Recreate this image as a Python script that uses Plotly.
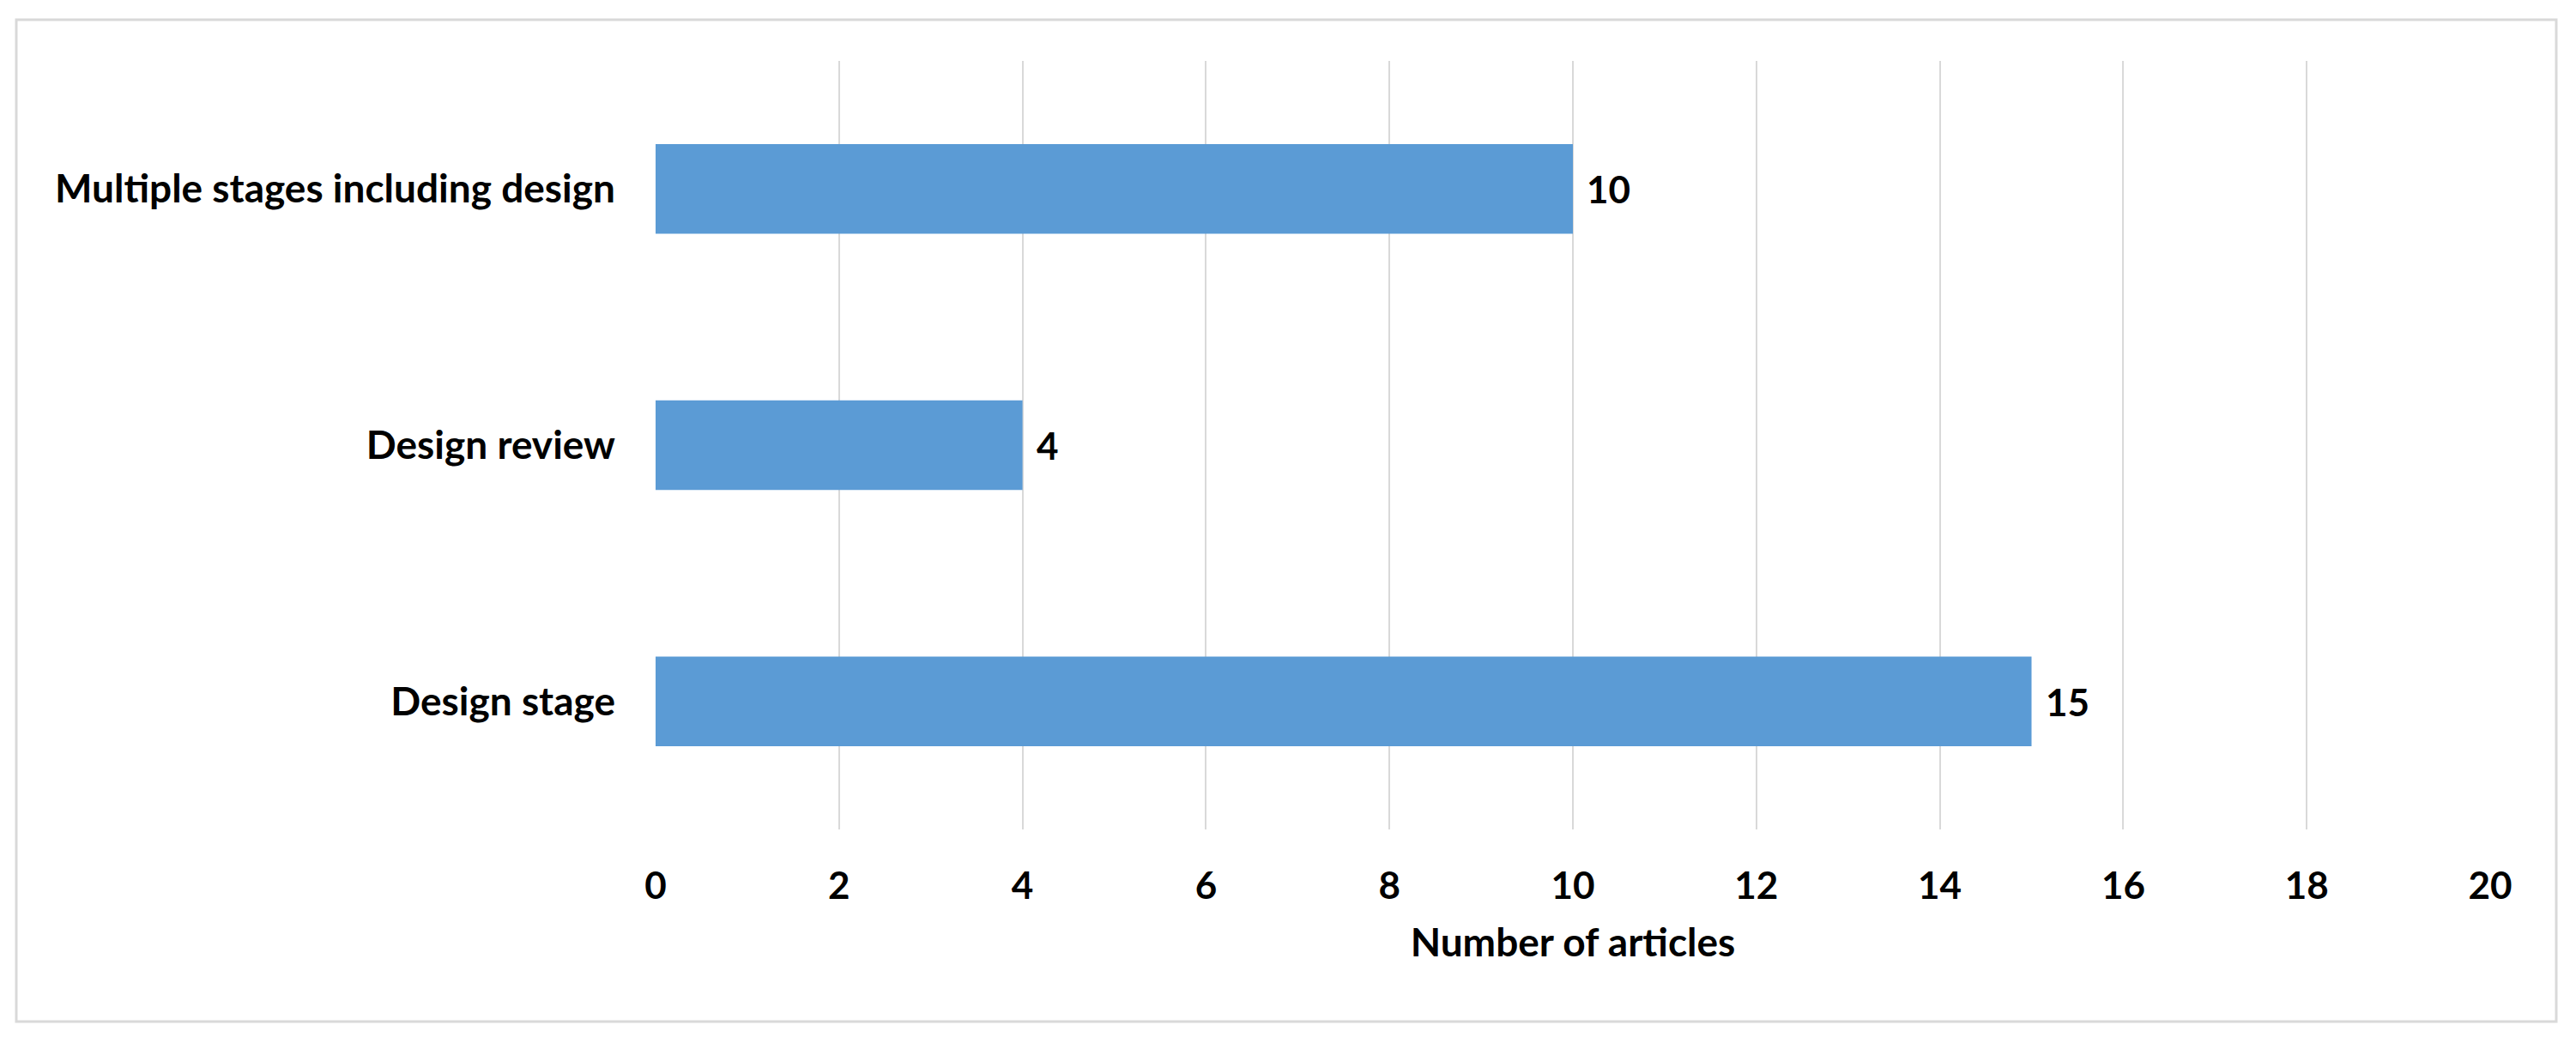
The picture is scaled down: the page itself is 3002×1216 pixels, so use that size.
import plotly.graph_objects as go

# data
stages = ["Design stage", "Design review", "Multiple stages including design"]
articles = [15, 4, 10]
x_ticks = [0, 2, 4, 6, 8, 10, 12, 14, 16, 18, 20]

W, H = 3002, 1216
off = 8  # browser body margin
# plot area in pixels (page coords minus body margin)
left, right, top, bottom = 764 - off, 2902 - off, 71 - off, 967 - off
font = "Lato"
fsize = 46

fig = go.Figure()
fig.add_trace(go.Bar(
    x=articles,
    y=stages,
    orientation="h",
    width=0.35,
    marker_color="#5b9bd5",
    marker_line_width=0,
    hoverinfo="skip",
))

# value labels next to the bars
for v, s in zip(articles, stages):
    fig.add_annotation(x=v, y=s, text="<b>%d</b>" % v, showarrow=False,
                       xanchor="left", xshift=14,
                       font=dict(family=font, size=fsize - 2, color="#000000"))

# frame around the whole chart (in paper coords relative to plot area)
pw, ph = right - left, bottom - top
def px_x(p):
    return (p - off - left) / pw
def px_y(p):
    return (bottom - (p - off)) / ph

fig.add_shape(type="rect", xref="paper", yref="paper",
              x0=px_x(19), x1=px_x(2979), y0=px_y(1191), y1=px_y(23),
              line=dict(color="#d9d9d9", width=3), fillcolor="rgba(0,0,0,0)",
              layer="below")

fig.update_xaxes(
    range=[0, 20],
    tickvals=x_ticks,
    ticktext=["<b>%d</b>" % v for v in x_ticks],
    showgrid=True, gridcolor="#d9d9d9", gridwidth=2,
    zeroline=False, showline=False,
    tickfont=dict(family=font, size=fsize - 2, color="#000000"),
    ticklabelstandoff=36,
    title=dict(text="<b>Number of articles</b>",
               font=dict(family=font, size=fsize, color="#000000"),
               standoff=26),
)
fig.update_yaxes(
    tickvals=stages,
    ticktext=["<b>%s</b>" % s for s in stages],
    showgrid=False, zeroline=False, showline=False,
    tickfont=dict(family=font, size=fsize, color="#000000"),
    ticklabelstandoff=46,
)

fig.update_layout(
    width=W, height=H,
    margin=dict(l=left, r=W - right, t=top, b=H - bottom, autoexpand=False),
    paper_bgcolor="white", plot_bgcolor="white",
    showlegend=False,
    font=dict(family=font, size=fsize, color="#000000"),
)

fig.write_html("out.html")
